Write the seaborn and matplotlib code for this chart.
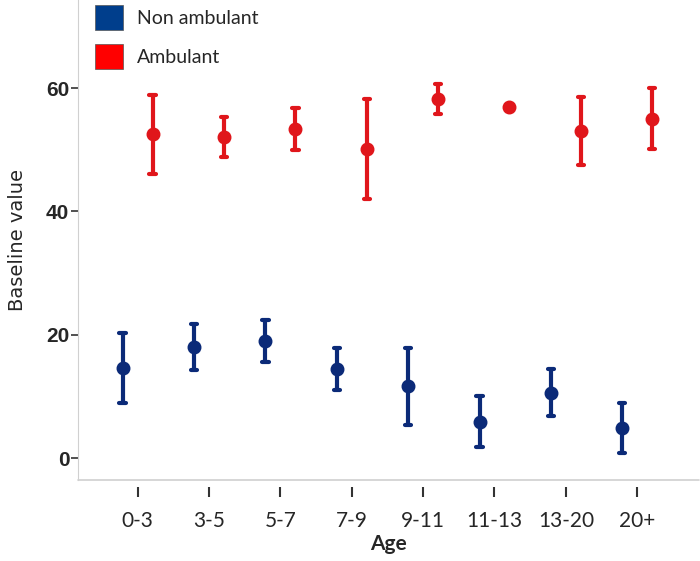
"""
Baseline value by age group, non ambulant vs ambulant (point + range).
"""

import numpy as np
import pandas as pd
import matplotlib.pyplot as plt
import seaborn as sns
from matplotlib.patches import Patch

sns.set_style("white")
plt.rcParams['font.family'] = ['Lato', 'DejaVu Sans']

# Datos
age_groups = ['0-3', '3-5', '5-7', '7-9', '9-11', '11-13', '13-20', '20+']
groups = ['Non ambulant', 'Ambulant']

non_amb_mid = [14.6, 18.0, 19.0, 14.5, 11.7, 5.9, 10.6, 4.9]
non_amb_low = [8.9, 14.2, 15.6, 11.1, 5.4, 1.8, 6.8, 0.8]
non_amb_high = [20.3, 21.7, 22.4, 17.9, 17.9, 10.1, 14.5, 8.9]

amb_mid = [52.5, 52.0, 53.3, 50.2, 58.2, 57.0, 53.0, 55.0]
amb_low = [46.0, 48.8, 49.9, 42.0, 55.8, 57.0, 47.6, 50.1]
amb_high = [58.9, 55.3, 56.8, 58.2, 60.6, 57.0, 58.6, 60.0]

colors = {'Non ambulant': '#0b2a78', 'Ambulant': '#e0161b'}
legend_colors = {'Non ambulant': '#003e8c', 'Ambulant': '#ff0000'}

# Tabla larga: low / mid / high por grupo -> mediana + rango completo
rows = []
for name, lo, mid, hi in [('Non ambulant', non_amb_low, non_amb_mid, non_amb_high),
                          ('Ambulant', amb_low, amb_mid, amb_high)]:
    for age, a, b, c in zip(age_groups, lo, mid, hi):
        for v in (a, b, c):
            rows.append({'Age': age, 'Group': name, 'value': v})
df = pd.DataFrame(rows)

fig = plt.figure(figsize=(7, 5.61), dpi=100)
ax = fig.add_axes([0.111, 0.144, 0.887, 0.856])

sns.pointplot(data=df, x='Age', y='value', hue='Group',
              order=age_groups, hue_order=groups, palette=colors,
              estimator='median', errorbar=('pi', 100),
              dodge=0.42, linestyle='none', markers='o',
              markersize=8, capsize=0.09,
              err_kws={'linewidth': 3}, legend=False, ax=ax)

ax.set_xlim(-0.84, 7.86)
ax.set_ylim(-3.6, 74.3)
ax.set_yticks([0, 20, 40, 60])
ax.set_yticklabels(['0', '20', '40', '60'], fontsize=15, fontweight='bold',
                   family=['Liberation Sans'])

ax.set_xlabel('Age', fontsize=15, fontweight='bold', labelpad=2)
ax.set_ylabel('Baseline value', fontsize=14, family=['DejaVu Sans'], labelpad=14)
ax.tick_params(axis='x', labelsize=15, length=7, width=1.5, color='#333333',
               pad=10, bottom=True, direction='out')
ax.tick_params(axis='y', length=5, width=1.2, color='#333333', left=True,
               pad=1, direction='out')

for side in ['top', 'right']:
    ax.spines[side].set_visible(False)
ax.spines['left'].set_color('#d0d0d0')
# ticks del eje x separados de la línea base
ax.spines['bottom'].set_position(('outward', 5))
ax.spines['bottom'].set_visible(False)
ax.axhline(-3.6, color='#d0d0d0', linewidth=1.2, clip_on=False)

handles = [Patch(facecolor=legend_colors[g], edgecolor='#555555', linewidth=0.5)
           for g in groups]
leg = ax.legend(handles, groups, loc='upper left', bbox_to_anchor=(0.0, 1.025),
                frameon=False, fontsize=14, handlelength=1.45, handleheight=1.55,
                handletextpad=0.7, labelspacing=0.75)

plt.savefig('out.png', dpi=100)
plt.close()
